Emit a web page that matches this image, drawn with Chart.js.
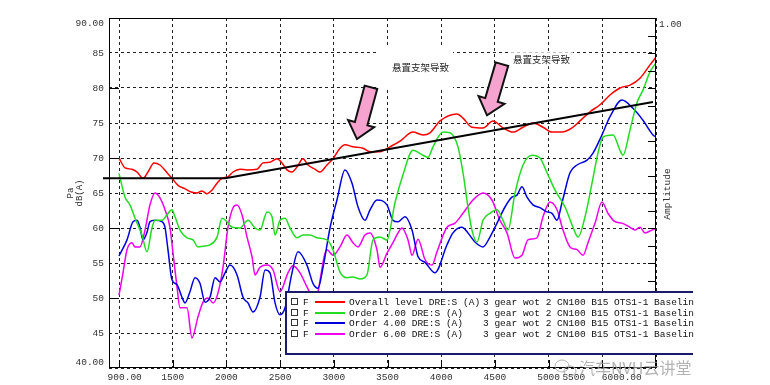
<!DOCTYPE html>
<html>
<head>
<meta charset="utf-8">
<script src="https://cdn.jsdelivr.net/npm/chart.js@4.4.1/dist/chart.umd.min.js"></script>
<style>
  html, body { margin: 0; padding: 0; background: #fff; }
</style>
</head>
<body>
<canvas id="myChart" width="770" height="385"></canvas>
<script>
// tick positions / labels
var xTickValues = [900, 1410, 1920, 2430, 2940, 3450, 3960, 4470, 4980, 5490, 6000];
var xTickLabels = ['900.00', '1500', '2000', '2500', '3000', '3500', '4000', '4500', '5000', '5500', '6000.00'];
var yTickValues = [40, 45, 50, 55, 60, 65, 70, 75, 80, 85, 90];
var yTickLabels = ['40.00', '45', '50', '55', '60', '65', '70', '75', '80', '85', '90.00'];

// Overall level
var overallRpm = [900, 957, 1023, 1071, 1128, 1175, 1232, 1289, 1356, 1403, 1460, 1527, 1593, 1641, 1688, 1736, 1783, 1831, 1878, 1935, 1983, 2049, 2116, 2211, 2268, 2334, 2400, 2448, 2495, 2543, 2590, 2647, 2695, 2761, 2809, 2875, 2932, 2999, 3046, 3122, 3217, 3284, 3379, 3474, 3569, 3692, 3787, 3854, 3949, 4110, 4167, 4252, 4357, 4452, 4547, 4642, 4737, 4832, 4927, 5012, 5107, 5202, 5278, 5373, 5468, 5563, 5658, 5753, 5848, 5943, 6000];
var overallDb = [70.0, 68.6, 68.4, 68.0, 67.1, 68.0, 69.3, 69.0, 67.9, 67.1, 66.1, 65.6, 65.1, 65.0, 65.3, 64.9, 65.4, 66.4, 67.1, 67.3, 68.0, 68.4, 68.3, 68.4, 69.3, 69.4, 69.9, 69.3, 68.3, 68.0, 68.7, 69.9, 69.0, 68.4, 68.0, 69.0, 69.9, 71.4, 71.9, 71.6, 71.4, 70.9, 70.9, 71.6, 72.4, 73.7, 73.3, 73.6, 75.3, 76.3, 75.7, 74.4, 74.3, 75.3, 74.3, 73.7, 74.4, 75.0, 74.4, 73.7, 73.7, 74.3, 75.3, 76.6, 77.6, 79.0, 80.0, 80.4, 81.4, 83.3, 84.4];

// Order 2.00
var order2Rpm = [900, 957, 1004, 1052, 1118, 1166, 1213, 1242, 1308, 1356, 1403, 1432, 1479, 1546, 1603, 1650, 1698, 1764, 1831, 1878, 1926, 1973, 2049, 2125, 2192, 2239, 2306, 2353, 2382, 2429, 2477, 2524, 2590, 2647, 2714, 2780, 2875, 2932, 2999, 3065, 3122, 3189, 3255, 3312, 3379, 3445, 3521, 3597, 3692, 3787, 3835, 3882, 3977, 4043, 4119, 4167, 4214, 4252, 4300, 4357, 4423, 4490, 4547, 4594, 4661, 4737, 4822, 4898, 4965, 5041, 5136, 5212, 5259, 5326, 5392, 5449, 5497, 5592, 5658, 5687, 5753, 5819, 5876, 5943, 6000];
var order2Db = [67.8, 64.4, 63.3, 61.4, 59.0, 56.6, 60.0, 61.1, 61.1, 61.9, 62.6, 61.6, 59.7, 58.6, 58.3, 57.3, 57.4, 57.6, 58.7, 61.4, 60.9, 60.1, 60.0, 61.1, 60.0, 59.7, 62.3, 61.6, 59.0, 61.1, 61.4, 60.0, 58.6, 59.0, 59.0, 58.6, 58.3, 56.9, 53.7, 52.9, 53.0, 52.7, 53.3, 58.3, 58.7, 58.3, 63.6, 67.6, 71.1, 70.4, 70.1, 71.6, 73.7, 73.6, 71.6, 67.9, 63.0, 59.7, 58.0, 61.1, 62.1, 62.6, 61.1, 59.7, 65.0, 69.0, 70.4, 70.0, 67.9, 65.4, 63.0, 60.1, 58.7, 61.6, 66.4, 70.7, 73.0, 73.3, 71.1, 70.4, 74.0, 77.9, 79.7, 82.3, 83.6];

// Order 4.00
var order4Rpm = [900, 976, 1033, 1071, 1099, 1128, 1166, 1194, 1242, 1308, 1337, 1365, 1403, 1451, 1498, 1527, 1574, 1622, 1669, 1717, 1764, 1812, 1859, 1907, 1954, 2021, 2078, 2125, 2173, 2239, 2287, 2334, 2382, 2429, 2477, 2543, 2600, 2685, 2742, 2790, 2837, 2904, 2970, 3046, 3113, 3170, 3236, 3284, 3350, 3445, 3502, 3550, 3616, 3683, 3740, 3806, 3901, 4015, 4072, 4157, 4214, 4281, 4357, 4423, 4490, 4566, 4632, 4680, 4727, 4775, 4832, 4898, 4965, 5012, 5060, 5107, 5183, 5250, 5345, 5402, 5487, 5563, 5677, 5781, 5876, 5971, 6000];
var order4Db = [56.0, 58.3, 60.9, 61.1, 60.1, 58.3, 59.4, 60.9, 61.1, 60.9, 60.1, 56.9, 52.6, 51.9, 50.1, 49.3, 50.9, 52.9, 52.1, 49.4, 50.1, 52.9, 52.3, 53.6, 54.7, 53.3, 50.1, 49.3, 48.0, 50.1, 54.0, 53.6, 49.3, 47.6, 48.6, 53.6, 56.6, 54.7, 52.1, 51.4, 54.3, 60.0, 64.0, 68.3, 66.4, 63.0, 61.1, 62.6, 64.0, 63.3, 61.1, 60.9, 61.6, 59.7, 55.9, 55.1, 53.6, 57.6, 59.3, 60.1, 59.3, 58.0, 57.3, 58.7, 60.7, 63.0, 64.4, 64.7, 65.9, 64.4, 63.3, 62.9, 62.3, 62.1, 61.1, 63.6, 67.9, 69.0, 69.7, 70.7, 73.3, 75.9, 78.3, 77.1, 75.4, 73.3, 73.0];

// Order 6.00
var order6Rpm = [900, 938, 976, 1023, 1052, 1099, 1147, 1194, 1242, 1289, 1337, 1384, 1413, 1451, 1479, 1546, 1593, 1650, 1698, 1745, 1793, 1840, 1888, 1935, 1983, 2021, 2068, 2116, 2163, 2192, 2239, 2306, 2363, 2429, 2505, 2552, 2619, 2685, 2761, 2875, 2932, 2999, 3065, 3122, 3170, 3236, 3284, 3350, 3379, 3445, 3502, 3550, 3588, 3645, 3683, 3740, 3806, 3873, 3920, 4015, 4091, 4167, 4262, 4357, 4442, 4518, 4585, 4661, 4727, 4784, 4870, 4927, 4993, 5060, 5117, 5183, 5250, 5307, 5354, 5421, 5487, 5544, 5610, 5677, 5753, 5800, 5848, 5895, 5962, 6000];
var order6Db = [50.4, 53.6, 56.9, 57.9, 57.3, 57.3, 59.7, 63.3, 65.0, 64.3, 62.6, 60.1, 56.4, 51.6, 48.6, 48.6, 44.3, 47.3, 49.4, 50.0, 49.3, 50.7, 54.4, 60.1, 62.9, 63.3, 61.9, 58.7, 55.9, 53.3, 54.4, 54.7, 54.0, 50.9, 53.6, 54.6, 53.6, 51.6, 49.7, 56.9, 56.1, 57.3, 59.0, 57.9, 57.3, 59.0, 59.3, 56.9, 54.4, 56.4, 57.9, 59.3, 60.0, 58.3, 56.1, 58.4, 55.5, 54.7, 56.6, 60.1, 60.7, 62.1, 64.0, 65.0, 64.0, 61.1, 59.3, 55.7, 56.1, 58.3, 58.6, 61.6, 63.7, 62.6, 59.7, 57.3, 56.9, 56.1, 57.9, 60.7, 63.7, 62.1, 60.9, 60.7, 60.1, 59.7, 60.1, 59.3, 59.7, 59.9];

// hand-drawn trend line
var trendRpm = [748, 1910, 5971];
var trendDb = [67.1, 67.1, 78.0];

var legendNames = ['Overall level DRE:S (A)', 'Order 2.00 DRE:S (A)', 'Order 4.00 DRE:S (A)', 'Order 6.00 DRE:S (A)'];
var legendRun = '3 gear wot 2 CN100 B15 OTS1-1 Baselin';
var seriesColors = ['#ff0000', '#22dd22', '#0000dd', '#ee00ee'];
var noteText = '悬置支架导致';
var watermark = '汽车NVH云讲堂';

// annotation anchors in data units (rpm, dB)
var notes = [
  { rpm: 3493, db: 83.0, box: [14, 61, 21, 23] },
  { rpm: 4642, db: 84.1, box: [3, 60, 7, 7] }
];
var arrows = [
  { fromRpm: 3293, fromDb: 80.1, toRpm: 3160, toDb: 72.7 },
  { fromRpm: 4537, fromDb: 83.4, toRpm: 4395, toDb: 76.1 }
];

var mono = "'Liberation Mono', 'DejaVu Sans Mono', monospace";

function pts(xs, ys) {
  return xs.map(function(x, i) { return { x: x, y: ys[i] }; });
}

function drawArrow(ctx, x0, y0, x1, y1) {
  var dx = x1 - x0, dy = y1 - y0;
  var len = Math.sqrt(dx * dx + dy * dy);
  var ux = dx / len, uy = dy / len;
  var nx = -uy, ny = ux;
  var sw = 6.5, hw = 13.5, hl = 16;
  var bx = x1 - ux * hl, by = y1 - uy * hl;
  ctx.beginPath();
  ctx.moveTo(x0 + nx * sw, y0 + ny * sw);
  ctx.lineTo(bx + nx * sw, by + ny * sw);
  ctx.lineTo(bx + nx * hw, by + ny * hw);
  ctx.lineTo(x1, y1);
  ctx.lineTo(bx - nx * hw, by - ny * hw);
  ctx.lineTo(bx - nx * sw, by - ny * sw);
  ctx.lineTo(x0 - nx * sw, y0 - ny * sw);
  ctx.closePath();
  ctx.fillStyle = '#f7a3cf';
  ctx.fill();
  ctx.lineWidth = 2;
  ctx.strokeStyle = '#111';
  ctx.lineJoin = 'miter';
  ctx.stroke();
}

var decor = {
  id: 'decor',
  afterDraw: function(chart) {
    var ctx = chart.ctx, a = chart.chartArea;
    var xs = chart.scales.x, ys = chart.scales.y;
    ctx.save();
    ctx.setLineDash([]);

    // frame
    ctx.strokeStyle = '#000';
    ctx.lineWidth = 1;
    ctx.strokeRect(Math.round(a.left) + 0.5, Math.round(a.top) + 0.5,
      Math.round(a.right - a.left) - 1, Math.round(a.bottom - a.top) - 1);

    // inner tick marks
    ctx.beginPath();
    xTickValues.forEach(function(v) {
      var px = Math.round(xs.getPixelForValue(v)) + 0.5;
      ctx.moveTo(px, a.bottom); ctx.lineTo(px, a.bottom - 8);
    });
    [50, 60, 70, 80].forEach(function(v) {
      var py = Math.round(ys.getPixelForValue(v)) + 0.5;
      ctx.moveTo(a.left, py); ctx.lineTo(a.left + 10, py);
    });
    for (var k = 1; k < 20; k++) {
      var py = Math.round(a.top + k * (a.bottom - a.top) / 20) + 0.5;
      ctx.moveTo(a.right - 8, py); ctx.lineTo(a.right, py);
    }
    ctx.stroke();

    // notes
    ctx.font = "9.5px 'Noto Sans CJK SC', sans-serif";
    ctx.textBaseline = 'middle';
    ctx.textAlign = 'left';
    notes.forEach(function(n) {
      var px = xs.getPixelForValue(n.rpm), py = ys.getPixelForValue(n.db);
      ctx.fillStyle = '#fff';
      ctx.fillRect(px - n.box[0], py - n.box[2], n.box[0] + n.box[1], n.box[2] + n.box[3]);
      ctx.fillStyle = '#222';
      ctx.fillText(noteText, px, py);
    });
    arrows.forEach(function(r) {
      drawArrow(ctx, xs.getPixelForValue(r.fromRpm), ys.getPixelForValue(r.fromDb),
        xs.getPixelForValue(r.toRpm), ys.getPixelForValue(r.toDb));
    });

    // right axis text
    ctx.fillStyle = '#333';
    ctx.font = '9.5px ' + mono;
    ctx.textAlign = 'left';
    ctx.fillText('1.00', a.right + 3, a.top + 6);
    ctx.save();
    ctx.translate(a.right + 11, (a.top + a.bottom) / 2 + 1);
    ctx.rotate(-Math.PI / 2);
    ctx.textAlign = 'center';
    ctx.fillText('Amplitude', 0, 0);
    ctx.restore();

    // legend box
    var L = 285, T = 291, R = 693, B = 355;
    ctx.fillStyle = '#fff';
    ctx.fillRect(L, T, R - L, B - T);
    ctx.strokeStyle = '#1b1b6b';
    ctx.lineWidth = 2;
    ctx.beginPath();
    ctx.moveTo(R, T + 1); ctx.lineTo(L + 1, T + 1); ctx.lineTo(L + 1, B - 1); ctx.lineTo(R, B - 1);
    ctx.stroke();
    ctx.font = '9.5px ' + mono;
    ctx.textBaseline = 'middle';
    for (var i = 0; i < legendNames.length; i++) {
      var ry = Math.round(302 + i * 10.6);
      ctx.strokeStyle = '#333';
      ctx.lineWidth = 1;
      ctx.strokeRect(291.5, ry - 3.5, 6, 6);
      ctx.fillStyle = '#111';
      ctx.fillText('F', 303, ry);
      ctx.strokeStyle = seriesColors[i];
      ctx.lineWidth = 2;
      ctx.beginPath(); ctx.moveTo(315, ry); ctx.lineTo(345, ry); ctx.stroke();
      ctx.fillStyle = '#111';
      ctx.fillText(legendNames[i], 349, ry);
      ctx.fillText(legendRun, 483, ry);
    }

    // watermark
    ctx.globalAlpha = 0.75;
    ctx.strokeStyle = '#999';
    ctx.lineWidth = 1;
    ctx.beginPath(); ctx.ellipse(562, 366, 7, 6, 0, 0, Math.PI * 2); ctx.stroke();
    ctx.beginPath(); ctx.ellipse(570, 371, 6, 5, 0, 0, Math.PI * 2); ctx.stroke();
    ctx.fillStyle = '#9a9a9a';
    ctx.font = "16px 'Noto Sans CJK SC', sans-serif";
    ctx.textAlign = 'left';
    ctx.fillText(watermark, 579, 368);
    ctx.restore();
  }
};

var ctx = document.getElementById('myChart');
var chart = new Chart(ctx, {
  type: 'line',
  data: {
    datasets: [
      { label: 'trend', data: pts(trendRpm, trendDb), borderColor: '#000', borderWidth: 2, tension: 0, clip: false },
      { label: legendNames[0], data: pts(overallRpm, overallDb), borderColor: seriesColors[0], borderWidth: 1.5, cubicInterpolationMode: 'monotone' },
      { label: legendNames[1], data: pts(order2Rpm, order2Db), borderColor: seriesColors[1], borderWidth: 1.5, cubicInterpolationMode: 'monotone' },
      { label: legendNames[2], data: pts(order4Rpm, order4Db), borderColor: seriesColors[2], borderWidth: 1.5, cubicInterpolationMode: 'monotone' },
      { label: legendNames[3], data: pts(order6Rpm, order6Db), borderColor: seriesColors[3], borderWidth: 1.5, cubicInterpolationMode: 'monotone' }
    ]
  },
  options: {
    responsive: false,
    animation: false,
    devicePixelRatio: 1,
    layout: { padding: { left: 0, right: 114, top: 18, bottom: 0 } },
    elements: { point: { radius: 0 } },
    plugins: { legend: { display: false }, tooltip: { enabled: false } },
    scales: {
      x: {
        type: 'linear',
        min: 805,
        max: 6000,
        afterBuildTicks: function(s) { s.ticks = xTickValues.map(function(v) { return { value: v }; }); },
        afterFit: function(s) { s.height = 17; },
        grid: { color: '#222', drawTicks: false },
        border: { display: false, dash: [3, 3] },
        ticks: {
          autoSkip: false, maxRotation: 0, minRotation: 0, padding: 4, color: '#333',
          font: { family: mono, size: 9.5 },
          callback: function(v, i) {
            var t = xTickLabels[i];
            if (i === 0) return '  ' + t;
            if (i === xTickLabels.length - 2) return t + '          ';
            if (i === xTickLabels.length - 1) return t + '            ';
            return t;
          }
        }
      },
      y: {
        min: 40,
        max: 90,
        afterBuildTicks: function(s) { s.ticks = yTickValues.map(function(v) { return { value: v }; }); },
        afterFit: function(s) { s.width = 109; },
        grid: { color: '#222', drawTicks: false },
        border: { display: false, dash: [3, 3] },
        title: {
          display: true, text: ['Pa', 'dB(A)'], color: '#333',
          font: { family: mono, size: 9, lineHeight: 1.0 },
          padding: { top: 66, bottom: 0 }
        },
        ticks: {
          padding: 5, color: '#333',
          font: { family: mono, size: 9.5 },
          callback: function(v, i) {
            if (i === yTickLabels.length - 1) return ['', yTickLabels[i]];
            if (i === 0) return [yTickLabels[i], ''];
            return yTickLabels[i];
          }
        }
      }
    }
  },
  plugins: [decor]
});
</script>
</body>
</html>
